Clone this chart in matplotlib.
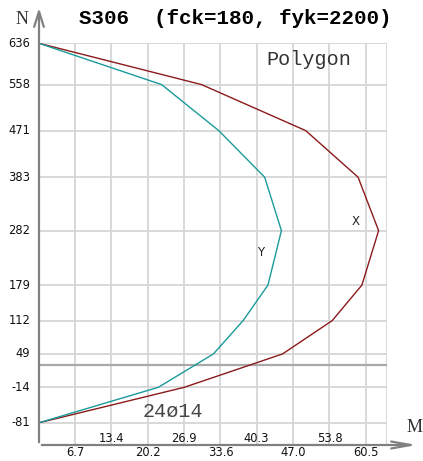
import matplotlib.pyplot as plt

# interaction polygon, N in kN, M in kNm
n_levels = [636, 558, 471, 383, 282, 179, 112, 49, -14, -81]
m_x = [0.0, 30.1, 49.4, 59.1, 62.9, 59.8, 54.3, 45.1, 26.9, 0.0]
m_y = [0.0, 22.7, 33.3, 41.8, 44.9, 42.4, 37.8, 32.3, 22.1, 0.0]
m_ticks = [6.7, 13.4, 20.2, 26.9, 33.6, 40.3, 47.0, 53.8, 60.5]
n_mark = 29  # grey reference line

W, H = 423, 461
fig = plt.figure(figsize=(W / 100, H / 100), dpi=100)
ax = fig.add_axes([39 / W, 1 - 445 / H, (386.7 - 39) / W, (445 - 43.3) / H])
ax.set_xlim(0, 64.4)
ax.set_ylim(-123, 636)

grid_c = "#d6d6d6"
axis_c = "#808080"

for m in m_ticks:
    ax.axvline(m, color=grid_c, lw=1.3, zorder=1)
ax.axvline(64.4, color=grid_c, lw=1.3, zorder=1)
for n in n_levels:
    ax.plot([0, 64.4], [n, n], color=grid_c, lw=1.3, zorder=1)
ax.axhline(n_mark, color="#a8a8a8", lw=1.6, zorder=1)

ax.plot(m_x, n_levels, color="#8b1a1a", lw=1.0, zorder=3)
ax.plot(m_y, n_levels, color="#1a9a9a", lw=1.0, zorder=3)

for s in ax.spines.values():
    s.set_visible(False)
ax.set_xticks([])
ax.set_yticks([])

# axes with open arrow heads
ax.annotate("", xy=(0, 1.095), xytext=(0, 0), xycoords="axes fraction",
            arrowprops=dict(arrowstyle="->,head_length=1.1,head_width=0.35",
                            color=axis_c, lw=1.6), annotation_clip=False)
ax.annotate("", xy=(1.095, 0), xytext=(0, 0), xycoords="axes fraction",
            arrowprops=dict(arrowstyle="->,head_length=1.4,head_width=0.25",
                            color=axis_c, lw=1.6), annotation_clip=False)

for n in n_levels:
    ax.text(-1.6, n, str(n), ha="right", va="center", fontsize=8.3,
            family="DejaVu Sans", color="#111111", clip_on=False)
for i, m in enumerate(m_ticks):
    y = -137 if i % 2 == 0 else -110
    ax.text(m, y, f"{m:.1f}", ha="center", va="center", fontsize=8.3,
            family="DejaVu Sans", color="#111111", clip_on=False)

ax.text(58.6, 300, "X", ha="center", va="center", fontsize=8.5, color="#222222")
ax.text(41.0, 241, "Y", ha="center", va="center", fontsize=8.5, color="#222222")
ax.text(50.0, 605, "Polygon", ha="center", va="center", fontsize=14.5,
        family="Liberation Mono", color="#333333")
ax.text(24.9, -59, "24\u00f814", ha="center", va="center", fontsize=14.5,
        family="Liberation Mono", color="#444444")

fig.text(235 / W, 1 - 18 / H, "S306  (fck=180, fyk=2200)", ha="center",
         va="center", fontsize=15, family="Liberation Mono", weight="bold")
fig.text(22 / W, 1 - 19 / H, "N", ha="center", va="center", fontsize=13,
         family="Liberation Serif", color="#333333")
fig.text(415 / W, 1 - 427 / H, "M", ha="center", va="center", fontsize=13,
         family="Liberation Serif", color="#333333")

fig.savefig("out.png", dpi=100, facecolor="white")
